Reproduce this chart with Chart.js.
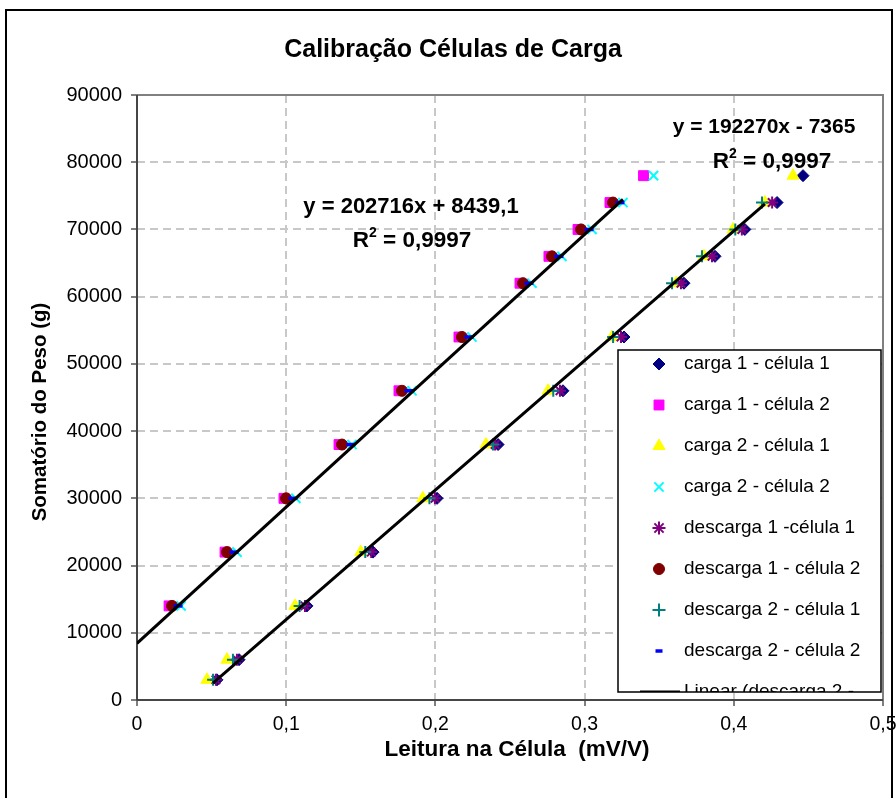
<!DOCTYPE html>
<html>
<head>
<meta charset="utf-8">
<script src="https://cdn.jsdelivr.net/npm/chart.js@4.4.1/dist/chart.umd.min.js"></script>
<style>
  html, body { margin: 0; padding: 0; background: #fff; }
  #wrap { position: relative; width: 896px; height: 798px; }
</style>
</head>
<body>
<div id="wrap"><canvas id="c"></canvas></div>
<script>
// Load levels (g) for each cell
const levelsCel1 = [3000, 6000, 14000, 22000, 30000, 38000, 46000, 54000, 62000, 66000, 70000, 74000, 78000];
const levelsCel2 = [14000, 22000, 30000, 38000, 46000, 54000, 62000, 66000, 70000, 74000, 78000];

// Readings (mV/V)
const carga1Cel1 = [0.0536, 0.0684, 0.1139, 0.1582, 0.2011, 0.2420, 0.2855, 0.3264, 0.3666, 0.3874, 0.4074, 0.4290, 0.4464];
const carga2Cel1 = [0.0469, 0.0603, 0.1059, 0.1500, 0.1916, 0.2339, 0.2755, 0.3184, 0.3613, 0.3800, 0.3995, 0.4209, 0.4397];
const descarga1Cel1 = [0.0529, 0.0670, 0.1126, 0.1570, 0.1997, 0.2400, 0.2835, 0.3244, 0.3646, 0.3854, 0.4054, 0.4257];
const descarga2Cel1 = [0.0510, 0.0643, 0.1090, 0.1530, 0.1960, 0.2386, 0.2790, 0.3191, 0.3586, 0.3787, 0.4010, 0.4189];

const carga1Cel2 = [0.0215, 0.0590, 0.0985, 0.1354, 0.1756, 0.2158, 0.2567, 0.2761, 0.2956, 0.3170, 0.3395];
const carga2Cel2 = [0.0295, 0.0670, 0.1065, 0.1441, 0.1843, 0.2245, 0.2647, 0.2848, 0.3050, 0.3257, 0.3462];
const descarga1Cel2 = [0.0235, 0.0603, 0.0999, 0.1374, 0.1776, 0.2178, 0.2587, 0.2781, 0.2976, 0.3190];
const descarga2Cel2 = [0.0275, 0.0650, 0.1045, 0.1434, 0.1823, 0.2225, 0.2627, 0.2828, 0.3030, 0.3237];

// Trendline end points, as drawn
const trendCel2 = [{ x: 0, y: 8439 }, { x: 0.3257, y: 74460 }];
const trendCel1 = [{ x: 0.0509, y: 2500 }, { x: 0.4209, y: 73800 }];

const xMax = 0.5, xStep = 0.1;
const yMax = 90000, yStep = 10000;

const FONT = '"Liberation Sans", Arial, sans-serif';

const pts = (xs, levels) => xs.map((x, i) => ({ x, y: levels[i] }));

const series = [
  { label: 'carga 1 - célula 1', data: pts(carga1Cel1, levelsCel1), style: 'rectRot', color: '#000080', r: 6, lr: 6, bw: 1 },
  { label: 'carga 1 - célula 2', data: pts(carga1Cel2, levelsCel2), style: 'rect', color: '#ff00ff', r: 7, lr: 7, bw: 1 },
  { label: 'carga 2 - célula 1', data: pts(carga2Cel1, levelsCel1), style: 'triangle', color: '#ffff00', r: 7, lr: 7, bw: 1 },
  { label: 'carga 2 - célula 2', data: pts(carga2Cel2, levelsCel2), style: 'crossRot', color: '#00ffff', r: 6.5, lr: 6.5, bw: 2 },
  { label: 'descarga 1 -célula 1', data: pts(descarga1Cel1, levelsCel1), style: 'star', color: '#800080', r: 6, lr: 6.5, bw: 2 },
  { label: 'descarga 1 - célula 2', data: pts(descarga1Cel2, levelsCel2), style: 'circle', color: '#800000', r: 5.5, lr: 5.5, bw: 1 },
  { label: 'descarga 2 - célula 1', data: pts(descarga2Cel1, levelsCel1), style: 'cross', color: '#008080', r: 6, lr: 6.5, bw: 2 },
  { label: 'descarga 2 - célula 2', data: pts(descarga2Cel2, levelsCel2), style: 'line', color: '#0000ff', r: 4.5, lr: 3.5, bw: 3.5 },
];

const datasets = series.map((s, i) => ({
  label: s.label,
  data: s.data,
  showLine: false,
  pointStyle: s.style,
  pointRadius: s.r,
  pointHoverRadius: s.r,
  pointBorderWidth: s.bw,
  pointBackgroundColor: s.color,
  pointBorderColor: s.color,
  order: 20 - i, // later series drawn on top, like Excel
}));
[trendCel2, trendCel1].forEach((t, i) => datasets.push({
  label: 'Linear (descarga 2 - célula ' + (2 - i) + ')',
  data: t,
  showLine: true,
  borderColor: '#000',
  borderWidth: 3,
  pointRadius: 0,
  order: 1 - i,
}));

// title, axis titles, equations, frame and legend
const decor = {
  id: 'decor',
  beforeDatasetsDraw(chart) {
    const { ctx, chartArea: a } = chart;
    ctx.save();
    ctx.strokeStyle = '#808080';
    ctx.lineWidth = 2;
    ctx.strokeRect(a.left, a.top, a.right - a.left, a.bottom - a.top);
    ctx.strokeStyle = '#333';
    ctx.lineWidth = 1.5;
    ctx.beginPath();
    ctx.moveTo(a.left, a.top); ctx.lineTo(a.left, a.bottom); ctx.lineTo(a.right, a.bottom);
    ctx.stroke();
    ctx.restore();
  },
  afterDraw(chart) {
    const { ctx } = chart;
    ctx.save();
    // outer chart border
    ctx.strokeStyle = '#000';
    ctx.lineWidth = 2;
    ctx.strokeRect(6, 10, 886, 800);

    ctx.fillStyle = '#000';
    ctx.textAlign = 'center';
    ctx.textBaseline = 'middle';
    ctx.font = 'bold 25px ' + FONT;
    ctx.fillText('Calibração Células de Carga', 453, 50);

    ctx.font = 'bold 22.5px ' + FONT;
    ctx.fillText('Leitura na Célula  (mV/V)', 517, 750);
    ctx.font = 'bold 20.5px ' + FONT;
    ctx.save();
    ctx.translate(40, 412);
    ctx.rotate(-Math.PI / 2);
    ctx.fillText('Somatório do Peso (g)', 0, 0);
    ctx.restore();

    ctx.font = 'bold 22px ' + FONT;
    ctx.fillText('y = 202716x + 8439,1', 411, 207);
    ctx.font = 'bold 21px ' + FONT;
    ctx.fillText('y = 192270x - 7365', 764, 127);
    drawR2(ctx, 412, 241);
    drawR2(ctx, 772, 162);

    drawLegend(ctx);
    ctx.restore();
  },
};

function drawR2(ctx, cx, cy) {
  const big = 'bold 22.5px ' + FONT, small = 'bold 14px ' + FONT;
  const rest = ' = 0,9997';
  ctx.font = big; const wR = ctx.measureText('R').width, wRest = ctx.measureText(rest).width;
  ctx.font = small; const w2 = ctx.measureText('2').width;
  let x = cx - (wR + w2 + wRest) / 2;
  ctx.textAlign = 'left';
  ctx.font = big; ctx.fillText('R', x, cy); x += wR;
  ctx.font = small; ctx.fillText('2', x, cy - 8); x += w2;
  ctx.font = big; ctx.fillText(rest, x, cy);
  ctx.textAlign = 'center';
}

function drawLegend(ctx) {
  const bx = 618, by = 350, bw = 263, bh = 342;
  ctx.save();
  ctx.fillStyle = '#fff';
  ctx.fillRect(bx, by, bw, bh);
  ctx.beginPath();
  ctx.rect(bx, by, bw, bh);
  ctx.clip();
  ctx.font = '19px ' + FONT;
  ctx.textAlign = 'left';
  ctx.textBaseline = 'middle';
  series.forEach((s, i) => {
    const y = 364 + i * 41;
    ctx.fillStyle = s.color;
    ctx.strokeStyle = s.color;
    ctx.lineWidth = s.bw;
    Chart.helpers.drawPoint(ctx, { pointStyle: s.style, radius: s.lr, borderWidth: s.bw, rotation: 0 }, 659, y);
    ctx.fillStyle = '#000';
    ctx.fillText(s.label, 684, y);
  });
  const yl = 364 + 8 * 41;
  ctx.strokeStyle = '#000';
  ctx.lineWidth = 3;
  ctx.beginPath(); ctx.moveTo(640, yl); ctx.lineTo(680, yl); ctx.stroke();
  ctx.fillStyle = '#000';
  ctx.fillText('Linear (descarga 2 -', 684, yl);
  ctx.restore();
  ctx.strokeStyle = '#000';
  ctx.lineWidth = 1.5;
  ctx.strokeRect(bx, by, bw, bh);
}

new Chart(document.getElementById('c'), {
  type: 'scatter',
  data: { datasets },
  plugins: [decor],
  options: {
    responsive: true,
    maintainAspectRatio: false,
    animation: false,
    events: [],
    layout: { padding: { left: 0, right: 13, top: 95, bottom: 0 } },
    plugins: { legend: { display: false }, tooltip: { enabled: false }, title: { display: false } },
    scales: {
      x: {
        type: 'linear',
        min: 0, max: xMax,
        afterFit: (s) => { s.height = 98; s.paddingLeft = 0; s.paddingRight = 0; },
        ticks: {
          stepSize: xStep, color: '#000', font: { family: FONT, size: 19.5 }, padding: 7,
          maxRotation: 0, autoSkip: false, includeBounds: true,
          callback: (v) => (v === 0 ? '0' : (Math.round(v * 10) / 10).toFixed(1).replace('.', ',')),
        },
        grid: { color: '#c8c8c8', lineWidth: 2, tickColor: '#000', tickLength: 6, tickWidth: 1 },
        border: { display: false, dash: [8, 5] },
      },
      y: {
        type: 'linear',
        min: 0, max: yMax,
        ticks: { stepSize: yStep, color: '#000', font: { family: FONT, size: 20 }, padding: 9, callback: (v) => String(v) },
        afterFit: (s) => { s.width = 137; },
        grid: { color: '#c8c8c8', lineWidth: 2, tickColor: '#000', tickLength: 6, tickWidth: 1 },
        border: { display: false, dash: [8, 5] },
      },
    },
  },
});
</script>
</body>
</html>
